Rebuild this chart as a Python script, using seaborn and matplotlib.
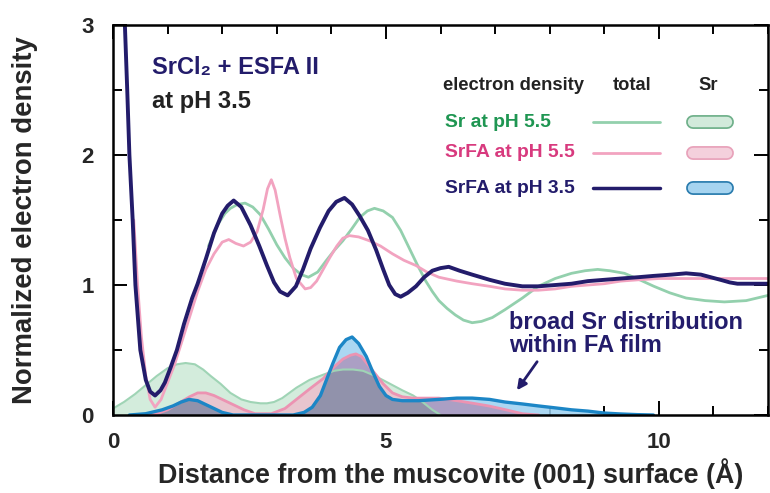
import numpy as np
import matplotlib
matplotlib.use("Agg")
import matplotlib.pyplot as plt
import matplotlib.patheffects as pe
from matplotlib import font_manager
from matplotlib.ticker import MultipleLocator
import seaborn as sns

# total electron density profiles (x in Angstrom, normalized density)
navy_x = [0.2, 0.26, 0.3, 0.36, 0.41, 0.5, 0.6, 0.68, 0.77, 0.87, 0.95, 1.05, 1.17, 1.3, 1.45, 1.55,
          1.7, 1.85, 2.0, 2.1, 2.21, 2.35, 2.52, 2.68, 2.82, 2.95, 3.06, 3.2, 3.35, 3.48, 3.62, 3.79,
          3.95, 4.09, 4.24, 4.38, 4.52, 4.67, 4.82, 4.95, 5.06, 5.17, 5.27, 5.4, 5.55, 5.7, 5.85, 6.0,
          6.15, 6.35, 6.58, 6.9, 7.18, 7.5, 7.79, 8.1, 8.4, 8.7, 9.0, 9.3, 9.62, 9.9, 10.23, 10.5,
          10.77, 10.95, 11.13, 11.3, 11.44, 11.7, 12.0]
navy_y = [3.2, 2.5, 2.0, 1.5, 1.0, 0.5, 0.27, 0.18, 0.15, 0.19, 0.25, 0.36, 0.5, 0.7, 0.9, 1.01,
          1.2, 1.4, 1.55, 1.61, 1.65, 1.6, 1.46, 1.3, 1.15, 1.02, 0.95, 0.92, 0.99, 1.12, 1.28, 1.44,
          1.57, 1.64, 1.67, 1.62, 1.53, 1.42, 1.27, 1.12, 1.0, 0.93, 0.91, 0.94, 0.99, 1.06, 1.11, 1.13,
          1.14, 1.11, 1.08, 1.04, 1.01, 0.99, 0.99, 1.0, 1.01, 1.03, 1.04, 1.05, 1.06, 1.07, 1.08, 1.09,
          1.08, 1.06, 1.04, 1.02, 1.01, 1.01, 1.01]

pink_x = [0.38, 0.45, 0.52, 0.6, 0.68, 0.77, 0.88, 1.0, 1.12, 1.25, 1.4, 1.55, 1.7, 1.85, 2.0, 2.12,
          2.25, 2.39, 2.52, 2.64, 2.75, 2.83, 2.9, 2.97, 3.06, 3.15, 3.24, 3.36, 3.52, 3.62, 3.73, 3.85,
          3.97, 4.1, 4.21, 4.33, 4.5, 4.7, 4.9, 5.12, 5.33, 5.55, 5.75, 5.97, 6.3, 6.58, 6.9, 7.18,
          7.5, 7.79, 8.1, 8.4, 8.7, 9.0, 9.3, 9.62, 10.0, 10.5, 11.0, 12.0]
pink_y = [1.5, 1.0, 0.6, 0.3, 0.12, 0.06, 0.12, 0.25, 0.38, 0.55, 0.75, 0.95, 1.12, 1.24, 1.33, 1.35,
          1.32, 1.3, 1.33, 1.41, 1.58, 1.74, 1.81, 1.73, 1.54, 1.36, 1.21, 1.05, 0.97, 0.98, 1.03, 1.12,
          1.21, 1.3, 1.36, 1.38, 1.37, 1.34, 1.3, 1.24, 1.19, 1.15, 1.1, 1.06, 1.03, 1.01, 0.99, 0.97,
          0.96, 0.96, 0.97, 0.99, 1.0, 1.01, 1.03, 1.04, 1.05, 1.05, 1.05, 1.05]

green_x = [1.75, 1.91, 2.05, 2.15, 2.28, 2.42, 2.56, 2.7, 2.85, 3.0, 3.15, 3.3, 3.45, 3.58, 3.75, 3.91,
           4.06, 4.21, 4.37, 4.52, 4.66, 4.79, 4.95, 5.12, 5.27, 5.42, 5.57, 5.73, 5.85, 5.97, 6.12,
           6.27, 6.42, 6.58, 6.75, 6.95, 7.18, 7.5, 7.79, 8.1, 8.4, 8.65, 8.88, 9.1, 9.37, 9.65, 9.91,
           10.2, 10.5, 10.85, 11.2, 11.6, 12.0]
green_y = [1.3, 1.46, 1.55, 1.59, 1.62, 1.63, 1.6, 1.54, 1.43, 1.31, 1.21, 1.13, 1.08, 1.06, 1.1, 1.19,
           1.27, 1.34, 1.43, 1.52, 1.57, 1.59, 1.57, 1.52, 1.42, 1.29, 1.16, 1.03, 0.95, 0.88, 0.82,
           0.77, 0.73, 0.71, 0.72, 0.75, 0.81, 0.9, 0.99, 1.05, 1.09, 1.11, 1.12, 1.11, 1.09, 1.04, 0.99,
           0.94, 0.9, 0.88, 0.87, 0.88, 0.92]

# Sr-only electron density distributions
gfill_x = [0, 0.2, 0.4, 0.6, 0.8, 1.0, 1.17, 1.33, 1.5, 1.65, 1.79, 1.97, 2.15, 2.35, 2.52, 2.7, 2.82,
           2.95, 3.1, 3.36, 3.6, 3.85, 4.05, 4.21, 4.4, 4.58, 4.75, 4.94, 5.12, 5.3, 5.5, 5.67, 5.85, 6.0]
gfill_y = [0.05, 0.1, 0.16, 0.23, 0.3, 0.36, 0.39, 0.40, 0.39, 0.35, 0.30, 0.24, 0.17, 0.12, 0.10, 0.09,
           0.09, 0.1, 0.13, 0.21, 0.27, 0.31, 0.34, 0.35, 0.35, 0.34, 0.31, 0.27, 0.23, 0.19, 0.15, 0.10,
           0.04, 0.0]

pfill_x = [0.6, 0.8, 1.0, 1.2, 1.4, 1.55, 1.7, 1.85, 2.0, 2.2, 2.4, 2.6, 2.9, 3.15, 3.36, 3.6, 3.85,
           4.05, 4.21, 4.35, 4.45, 4.55, 4.76, 4.95, 5.12, 5.3, 5.5, 5.75, 5.97, 6.3, 6.6, 6.88, 7.2,
           7.5, 7.8]
pfill_y = [0, 0.01, 0.04, 0.09, 0.14, 0.17, 0.17, 0.15, 0.12, 0.08, 0.04, 0.01, 0.01, 0.05, 0.12, 0.2,
           0.28, 0.37, 0.43, 0.46, 0.47, 0.45, 0.34, 0.24, 0.17, 0.14, 0.13, 0.13, 0.13, 0.11, 0.09,
           0.07, 0.04, 0.01, 0.0]

bfill_x = [0.3, 0.6, 0.9, 1.1, 1.25, 1.39, 1.55, 1.7, 1.85, 2.0, 2.2, 3.3, 3.5, 3.65, 3.8, 3.91, 4.03,
           4.15, 4.27, 4.38, 4.5, 4.64, 4.76, 4.88, 5.0, 5.12, 5.3, 5.6, 5.97, 6.3, 6.58, 6.9, 7.18,
           7.5, 7.79, 8.1, 8.4, 8.7, 9.0, 9.3, 9.6, 9.9]
bfill_y = [0.0, 0.01, 0.04, 0.07, 0.10, 0.12, 0.11, 0.08, 0.05, 0.02, 0.0, 0.0, 0.02, 0.06, 0.15, 0.27,
           0.40, 0.52, 0.58, 0.60, 0.55, 0.45, 0.33, 0.22, 0.15, 0.12, 0.11, 0.11, 0.12, 0.13, 0.13,
           0.12, 0.10, 0.085, 0.07, 0.055, 0.04, 0.03, 0.015, 0.008, 0.003, 0.0]

legend_labels = ["Sr at pH 5.5", "SrFA at pH 5.5", "SrFA at pH 3.5"]

sns.set_theme(style="ticks")
names = {f.name for f in font_manager.fontManager.ttflist}
fam = "Liberation Sans Narrow" if "Liberation Sans Narrow" in names else "Liberation Sans"
plt.rcParams["font.family"] = [fam, "DejaVu Sans"]
plt.rcParams["font.weight"] = "bold"

NAVY = "#231c6b"
PINK_L = "#f2a3c0"
GREEN_L = "#93d0ad"
BLUE_E = "#1c86c6"

fig = plt.figure(figsize=(7.7, 4.93), dpi=100)
ax = fig.add_axes([0.1468, 0.1582, 0.8506, 0.791])

# Sr fills
ax.fill_between(gfill_x, gfill_y, color="#d3ecdc", lw=0)
ax.fill_between(pfill_x, pfill_y, color="#f0b8ca", alpha=0.75, lw=0)
ax.fill_between(bfill_x, bfill_y, color="#9dd0f0", alpha=0.85, lw=0)
grid = np.linspace(0, 12, 1201)
g_i = np.interp(grid, gfill_x, gfill_y, left=0, right=0)
p_i = np.interp(grid, pfill_x, pfill_y, left=0, right=0)
b_i = np.interp(grid, bfill_x, bfill_y, left=0, right=0)
ax.fill_between(grid, np.minimum(b_i, p_i), color="#ab9fc4", lw=0)
ax.fill_between(grid, np.minimum(np.minimum(b_i, p_i), g_i), color="#9192ab", lw=0)

sns.lineplot(x=gfill_x, y=gfill_y, ax=ax, color="#9fd4b5", lw=1.5)
sns.lineplot(x=pfill_x, y=pfill_y, ax=ax, color="#ec93b2", lw=2)
sns.lineplot(x=bfill_x, y=bfill_y, ax=ax, color=BLUE_E, lw=2.4)

# totals
sns.lineplot(x=green_x, y=green_y, ax=ax, color=GREEN_L, lw=2)
sns.lineplot(x=pink_x, y=pink_y, ax=ax, color=PINK_L, lw=2)
sns.lineplot(x=navy_x, y=navy_y, ax=ax, color=NAVY, lw=2.8)

ax.set_xlim(0, 12)
ax.set_ylim(0, 3)
ax.xaxis.set_major_locator(MultipleLocator(5))
ax.xaxis.set_minor_locator(MultipleLocator(1))
ax.yaxis.set_major_locator(MultipleLocator(1))
ax.yaxis.set_minor_locator(MultipleLocator(0.5))
ax.tick_params(which="both", direction="in", top=True, right=True, width=1.4, color="black",
               labelsize=16)
ax.tick_params(which="major", length=10)
ax.tick_params(which="minor", length=6.5)
ax.tick_params(axis="y", pad=14)
ax.tick_params(axis="x", pad=12)
for s in ax.spines.values():
    s.set_linewidth(1.8)
    s.set_color("black")

ax.set_xlabel("Distance from the muscovite (001) surface (Å)", fontsize=19.4, fontweight="bold")
ax.set_ylabel("Normalized electron density", fontsize=19.8, fontweight="bold")
ax.xaxis.set_label_coords(0.515, -0.11)
ax.yaxis.set_label_coords(-0.114, 0.5)

ax.text(0.06, 0.892, "SrCl₂ + ESFA II", transform=ax.transAxes, color=NAVY, fontsize=17,
        fontweight="bold", va="center", ha="left")
ax.text(0.06, 0.803, "at pH 3.5", transform=ax.transAxes, color="#222222", fontsize=17,
        fontweight="bold", va="center", ha="left")

# legend
ax.text(0.504, 0.846, "electron density", transform=ax.transAxes, fontsize=13.2, color="#222222",
        va="center", ha="left")
ax.text(0.792, 0.846, "total", transform=ax.transAxes, fontsize=13.2, color="#222222",
        va="center", ha="center")
ax.text(0.908, 0.846, "Sr", transform=ax.transAxes, fontsize=13.2, color="#222222",
        va="center", ha="center")
row_y = [0.751, 0.672, 0.582]
txt_c = ["#1f9652", "#d83a7e", NAVY]
line_c = [GREEN_L, PINK_L, NAVY]
pill_fill = ["#d2eadb", "#f4d0dc", "#a6d4f0"]
pill_edge = ["#6fb08a", "#e8a2ba", "#2a7cae"]
for lab, yy, tc, lc, pf, pe_c in zip(legend_labels, row_y, txt_c, line_c, pill_fill, pill_edge):
    ax.text(0.507, yy, lab, transform=ax.transAxes, fontsize=13.9, color=tc,
            va="center", ha="left")
    ax.plot([0.733, 0.835], [yy, yy], transform=ax.transAxes, color=lc,
            lw=2.5 if lc == NAVY else 2)
    ax.plot([0.885, 0.938], [yy, yy], transform=ax.transAxes, color=pf, lw=7.5,
            solid_capstyle="round",
            path_effects=[pe.Stroke(linewidth=10, foreground=pe_c), pe.Normal()])

ax.text(7.25, 0.62, "broad Sr distribution\nwithin FA film", color=NAVY, fontsize=17,
        fontweight="bold", ha="left", va="center", linespacing=1.0)
ax.annotate("", xy=(7.4, 0.19), xytext=(7.77, 0.41),
            arrowprops=dict(arrowstyle="-|>", color=NAVY, lw=2, shrinkA=0, shrinkB=0,
                            mutation_scale=14))

fig.savefig("out.png", dpi=100)
